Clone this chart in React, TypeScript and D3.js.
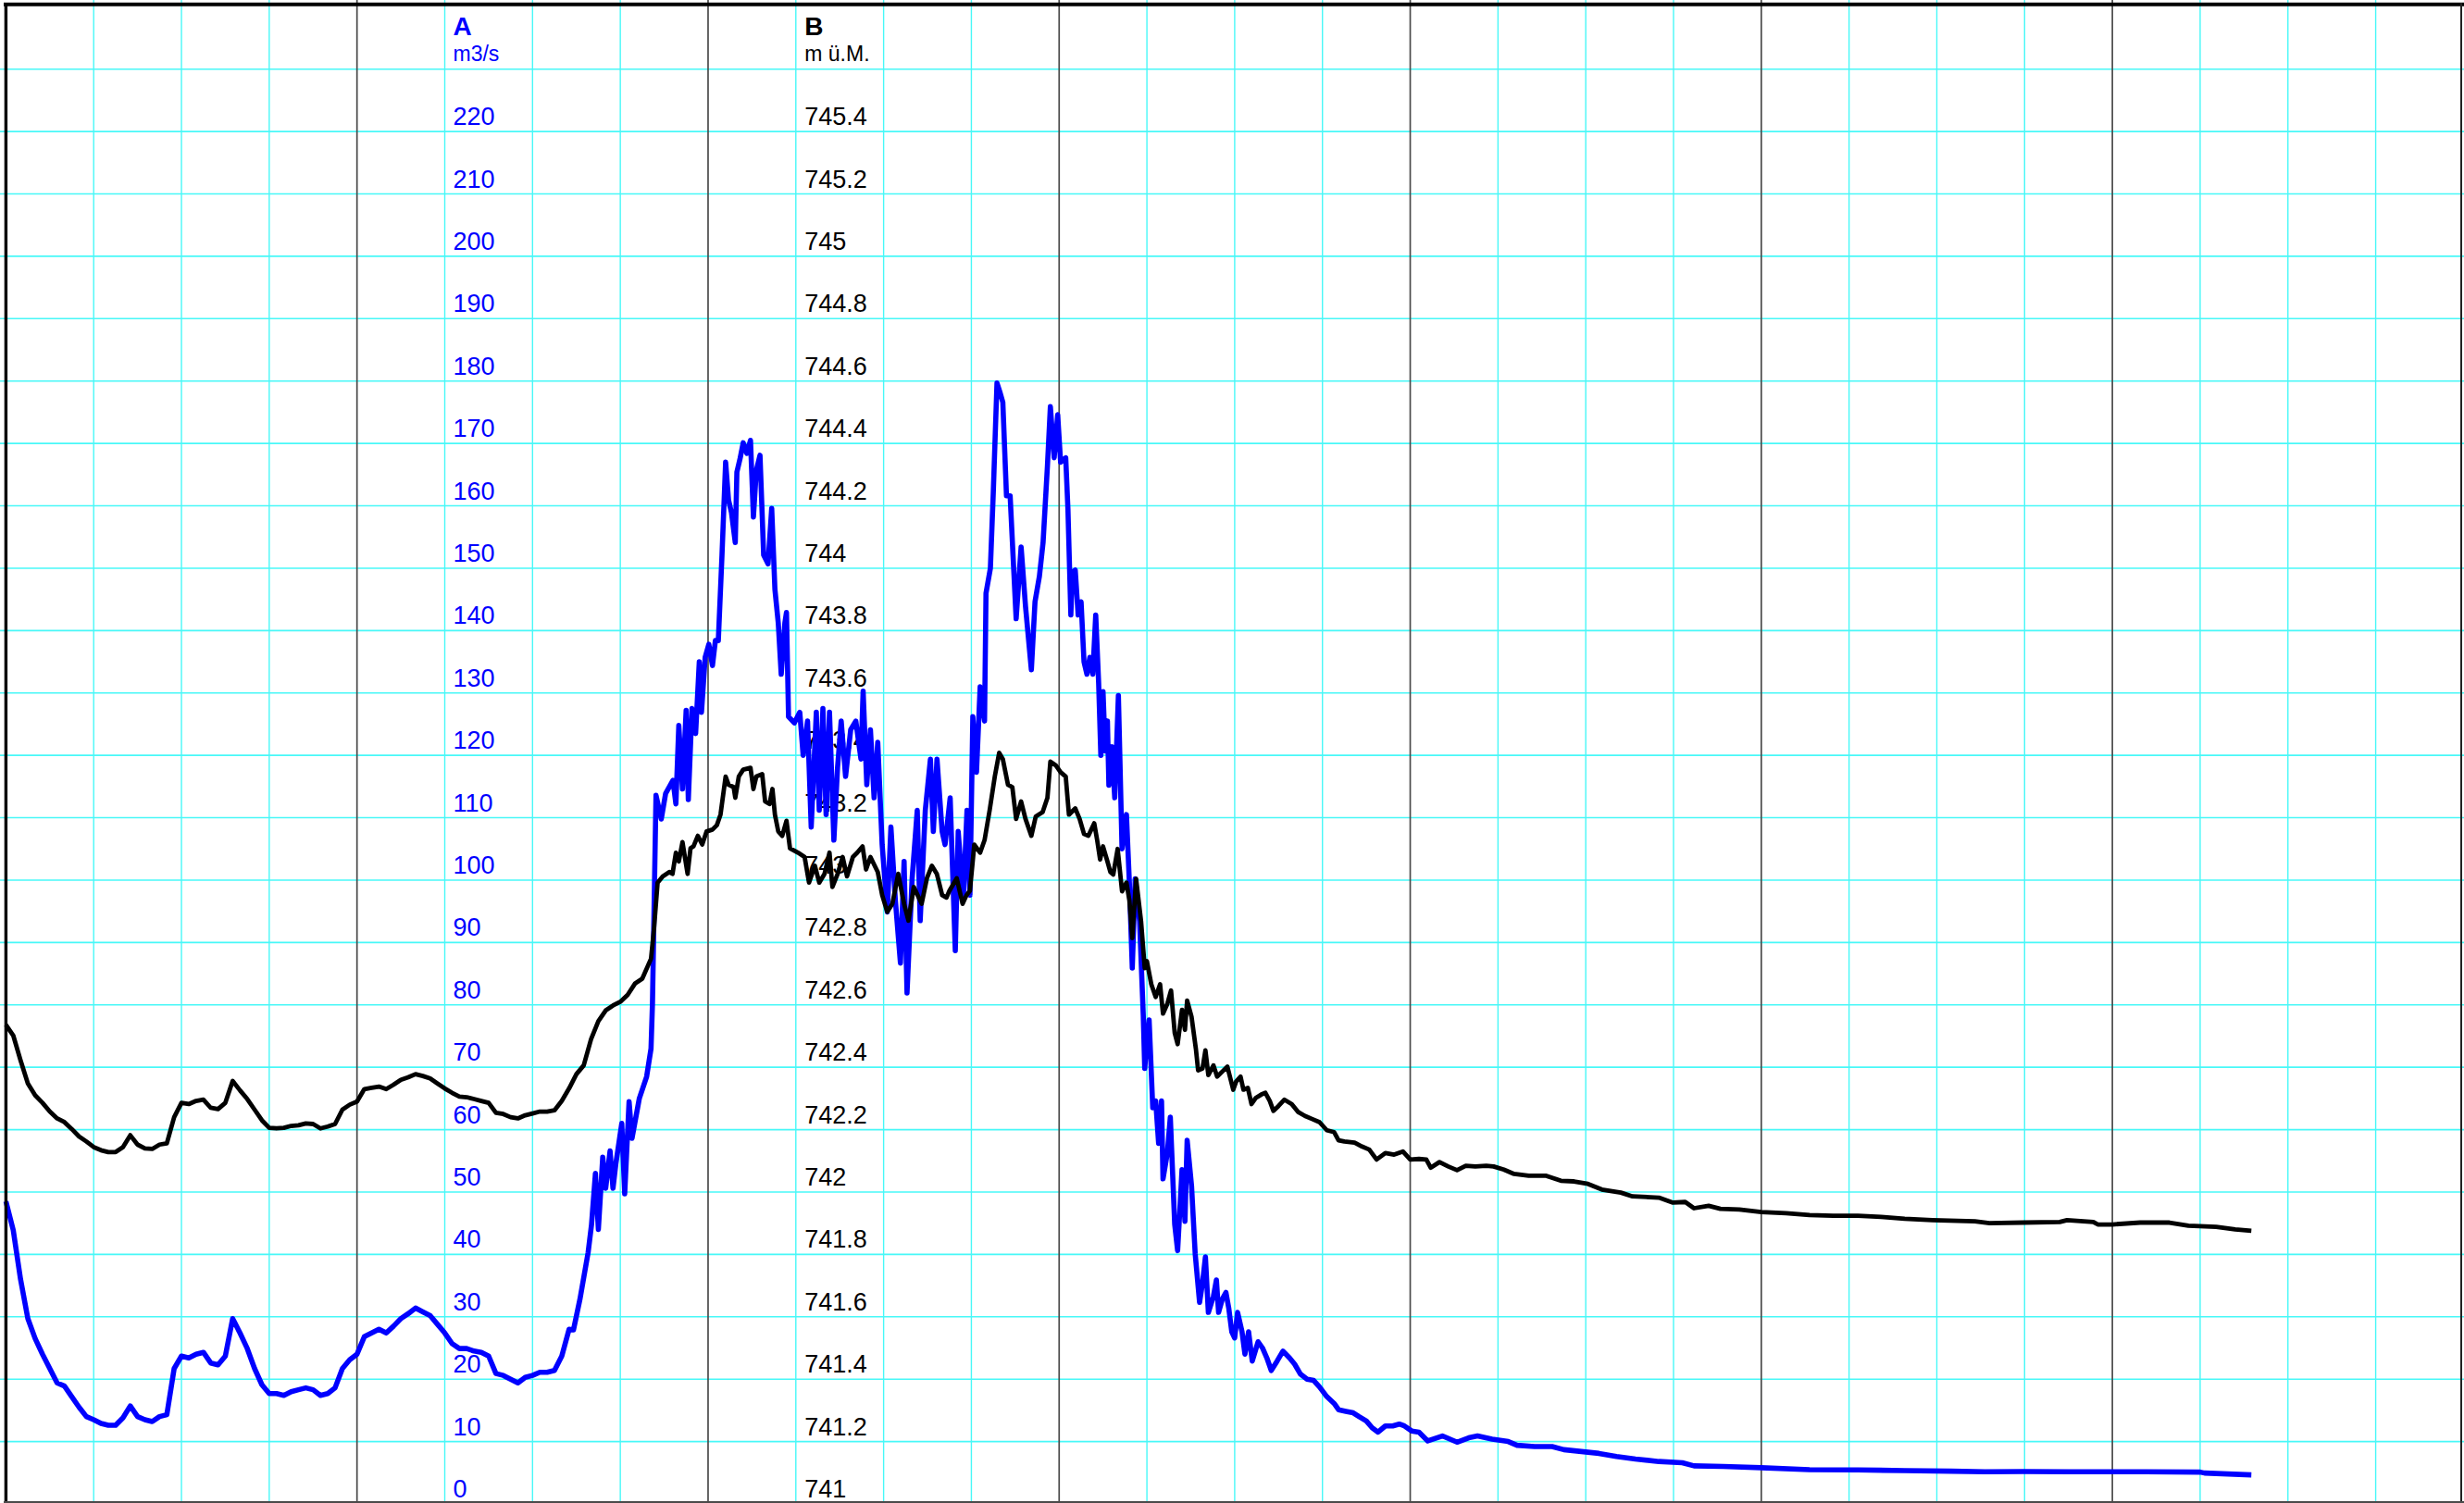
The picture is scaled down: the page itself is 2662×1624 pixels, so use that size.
import * as d3 from 'd3';

const WIDTH = 2662;
const HEIGHT = 1624;

// axis A: discharge (m3/s), axis B: water level (m ü.M.)
const flowLabels = [0, 10, 20, 30, 40, 50, 60, 70, 80, 90, 100, 110, 120, 130, 140, 150, 160, 170, 180, 190, 200, 210, 220];
const levelLabels = ['741', '741.2', '741.4', '741.6', '741.8', '742', '742.2', '742.4', '742.6', '742.8', '743', '743.2', '743.4', '743.6', '743.8', '744', '744.2', '744.4', '744.6', '744.8', '745', '745.2', '745.4'];
const flowGrid = [10, 20, 30, 40, 50, 60, 70, 80, 90, 100, 110, 120, 130, 140, 150, 160, 170, 180, 190, 200, 210, 220, 230];
// hours from the start of the record, one grid line each 6 h, dark one each day
const hourGrid = [6, 12, 18, 24, 30, 36, 42, 48, 54, 60, 66, 72, 78, 84, 90, 96, 102, 108, 114, 120, 126, 132, 138, 144, 150, 156, 162];

// [hour, m3/s]
const flowSeries: [number, number][] = [
  [0, 48.5], [0.5, 43.9], [1, 36], [1.5, 29.7], [2, 26.5], [2.5, 24], [3, 21.7], [3.5, 19.4], [4, 18.9], [4.5, 17.2],
  [5, 15.5], [5.5, 14], [6, 13.5], [6.5, 12.9], [7, 12.6], [7.5, 12.6], [8, 13.8], [8.5, 15.7], [9, 14], [9.5, 13.5],
  [10, 13.2], [10.5, 14], [11, 14.3], [11.5, 21.7], [12, 23.7], [12.5, 23.4], [13, 24], [13.5, 24.3], [14, 22.6], [14.5, 22.3],
  [15, 23.7], [15.5, 29.7], [16, 27.4], [16.5, 24.9], [17, 21.7], [17.5, 19.1], [18, 17.7], [18.5, 17.7], [19, 17.4], [19.5, 18],
  [20, 18.3], [20.5, 18.6], [21, 18.3], [21.5, 17.4], [22, 17.7], [22.5, 18.6], [23, 21.7], [23.5, 23.1], [24, 24], [24.5, 26.8],
  [25, 27.4], [25.5, 28], [26, 27.4], [26.5, 28.5], [27, 29.7], [27.5, 30.5], [28, 31.4], [28.5, 30.8], [29, 30.2], [29.5, 28.8],
  [30, 27.4], [30.5, 25.7], [31, 24.9], [31.5, 24.9], [32, 24.5], [32.5, 24.3], [33, 23.7], [33.5, 20.9], [34, 20.6], [34.5, 20],
  [35, 19.4], [35.5, 20.3], [36, 20.6], [36.5, 21.1], [37, 21.1], [37.5, 21.4], [38, 23.7], [38.5, 28], [38.8, 27.9], [39.24, 32.8],
  [39.8, 40.3], [40.03, 44.7], [40.3, 53], [40.5, 44], [40.8, 55.6], [41, 50.6], [41.3, 56.6], [41.5, 50.6], [41.7, 54.6], [42.1, 61],
  [42.3, 49.7], [42.6, 64.5], [42.8, 58.6], [43.3, 65], [43.8, 68.5], [44.1, 73], [44.2, 80.3], [44.44, 113.6], [44.8, 109.8], [45.1, 113.9],
  [45.6, 116], [45.8, 112.2], [46, 124.8], [46.25, 114.6], [46.5, 127.2], [46.65, 112.9], [46.9, 127.5], [47.15, 123.5], [47.4, 135], [47.55, 126.9],
  [47.8, 135.7], [48.05, 137.8], [48.3, 134.4], [48.5, 138.4], [48.7, 138.4], [48.95, 152], [49.2, 167], [49.4, 160.9], [49.6, 158.9], [49.86, 154.1],
  [49.97, 165.4], [50.2, 167.7], [50.4, 170.1], [50.65, 168.4], [50.9, 170.5], [51.1, 158.2], [51.3, 165.7], [51.55, 168.1], [51.8, 152.1], [52.1, 150.7],
  [52.35, 159.6], [52.57, 146.6], [52.8, 141.2], [53, 133], [53.25, 141.2], [53.36, 142.9], [53.5, 126.2], [53.9, 125.2], [54.27, 126.9], [54.5, 120],
  [54.8, 125.5], [55.05, 108.5], [55.4, 126.9], [55.6, 111.2], [55.85, 127.5], [56.07, 110.5], [56.3, 126.9], [56.6, 106.4], [56.85, 118], [57.1, 125.5],
  [57.4, 116.6], [57.75, 124.1], [58.1, 125.5], [58.45, 119.4], [58.6, 130.3], [58.85, 115.3], [59.1, 124.1], [59.35, 113.2], [59.6, 122.1], [59.9, 105.7],
  [60.25, 94.9], [60.5, 108.5], [60.8, 96.9], [61.15, 86.7], [61.4, 103], [61.6, 81.9], [61.95, 100.3], [62.3, 111.2], [62.5, 93.5], [62.85, 111.2],
  [63.2, 119.4], [63.4, 107.8], [63.65, 119.4], [64, 107.8], [64.2, 105.7], [64.55, 113.2], [64.9, 88.7], [65.1, 107.8], [65.45, 96.9], [65.7, 111.2],
  [65.9, 97.6], [66.1, 126.2], [66.35, 117.3], [66.6, 131], [66.9, 125.5], [67, 146], [67.3, 150], [67.5, 162.3], [67.75, 179.7], [67.98, 178],
  [68.15, 176.6], [68.4, 161.6], [68.65, 161.6], [69.06, 141.9], [69.4, 153.4], [69.7, 143.9], [70.1, 133.7], [70.35, 144.6], [70.65, 148.7], [70.9, 154.1],
  [71.2, 166.4], [71.4, 175.9], [71.66, 167.7], [71.9, 174.6], [72.1, 167], [72.45, 167.7], [72.6, 159.5], [72.8, 142.5], [72.9, 149.3], [73.1, 149.7],
  [73.3, 142.5], [73.5, 144.6], [73.7, 135], [73.9, 133], [74.1, 135.7], [74.3, 133], [74.5, 142.5], [74.7, 131.6], [74.85, 120], [75, 130.2],
  [75.15, 120.7], [75.3, 125.5], [75.4, 115.2], [75.6, 121.4], [75.8, 113.2], [76.05, 129.6], [76.3, 105], [76.6, 110.5], [76.8, 99.6], [77, 85.9],
  [77.2, 100.2], [77.5, 93.4], [77.75, 78.4], [77.85, 69.8], [78, 74.5], [78.15, 77.6], [78.4, 63.5], [78.6, 64.6], [78.8, 57.8], [79, 64.6],
  [79.1, 52.1], [79.4, 56.3], [79.6, 62], [79.9, 44.8], [80.1, 40.6], [80.4, 53.6], [80.6, 45.3], [80.75, 58.3], [81.05, 51], [81.3, 40.1],
  [81.6, 32.3], [81.8, 35.4], [82, 39.6], [82.2, 30.7], [82.55, 33.3], [82.75, 35.9], [82.9, 30.7], [83.15, 32.8], [83.4, 33.9], [83.6, 31.3],
  [83.8, 27.6], [84, 26.6], [84.2, 30.7], [84.5, 27.6], [84.7, 24], [84.95, 27.6], [85.2, 22.9], [85.6, 26], [85.9, 25], [86.2, 23.4],
  [86.5, 21.4], [86.9, 22.9], [87.3, 24.5], [87.75, 23.4], [88.1, 22.4], [88.5, 20.8], [88.95, 20], [89.4, 19.8], [89.8, 18.75], [90.3, 17.2],
  [90.8, 16.1], [91.1, 15.1], [91.6, 14.85], [92.1, 14.6], [92.5, 14], [93, 13.3], [93.4, 12.2], [93.8, 11.5], [94.3, 12.5], [94.8, 12.5],
  [95.25, 12.8], [95.6, 12.5], [96.1, 11.7], [96.6, 11.5], [97.2, 10.1], [98.2, 10.9], [99.2, 9.9], [100, 10.6], [100.6, 10.9], [101.6, 10.4],
  [102.7, 10], [103.3, 9.4], [104.5, 9.2], [105.7, 9.2], [106.5, 8.7], [107.7, 8.4], [108.9, 8.1], [110.1, 7.6], [111.4, 7.2], [113, 6.8],
  [114.6, 6.6], [115.4, 6.1], [117.4, 6], [120, 5.8], [123.3, 5.5], [126.6, 5.45], [129.8, 5.35], [133, 5.25], [135.3, 5.15], [137.9, 5.2],
  [141.1, 5.15], [144, 5.15], [146.3, 5.15], [150, 5.1], [150.3, 4.95], [153.5, 4.65],
];

// [hour, m ü.M.]
const levelSeries: [number, number][] = [
  [0, 742.536], [0.5, 742.502], [1, 742.422], [1.5, 742.348], [2, 742.31], [2.5, 742.286], [3, 742.258], [3.5, 742.236], [4, 742.224], [4.5, 742.202],
  [5, 742.178], [5.5, 742.162], [6, 742.144], [6.5, 742.134], [7, 742.128], [7.5, 742.128], [8, 742.144], [8.5, 742.182], [9, 742.152], [9.5, 742.14],
  [10, 742.138], [10.5, 742.152], [11, 742.156], [11.5, 742.24], [12, 742.286], [12.5, 742.282], [13, 742.292], [13.5, 742.296], [14, 742.27], [14.5, 742.266],
  [15, 742.286], [15.5, 742.356], [16, 742.326], [16.5, 742.298], [17, 742.264], [17.5, 742.23], [18, 742.206], [18.5, 742.204], [19, 742.206], [19.5, 742.212],
  [20, 742.214], [20.5, 742.22], [21, 742.218], [21.5, 742.204], [22, 742.21], [22.5, 742.218], [23, 742.264], [23.5, 742.28], [24, 742.29], [24.5, 742.33],
  [25, 742.334], [25.5, 742.338], [26, 742.33], [26.5, 742.344], [27, 742.36], [27.5, 742.368], [28, 742.378], [28.5, 742.372], [29, 742.364], [29.5, 742.348],
  [30, 742.332], [30.5, 742.318], [31, 742.306], [31.5, 742.304], [32, 742.298], [32.5, 742.292], [33, 742.286], [33.5, 742.254], [34, 742.25], [34.5, 742.24],
  [35, 742.236], [35.5, 742.246], [36, 742.252], [36.5, 742.258], [37, 742.258], [37.5, 742.262], [38, 742.292], [38.5, 742.332], [39, 742.378], [39.5, 742.406],
  [40, 742.49], [40.5, 742.548], [41, 742.582], [41.5, 742.598], [42, 742.61], [42.5, 742.632], [43, 742.668], [43.5, 742.684], [44.1, 742.748], [44.3, 742.842],
  [44.55, 742.992], [44.9, 743.012], [45.35, 743.026], [45.57, 743.02], [45.8, 743.088], [46, 743.06], [46.25, 743.122], [46.6, 743.02], [46.8, 743.102], [47, 743.108],
  [47.3, 743.142], [47.6, 743.114], [47.9, 743.156], [48.3, 743.162], [48.6, 743.176], [48.85, 743.21], [49.2, 743.332], [49.4, 743.306], [49.75, 743.298], [49.86, 743.264],
  [50.1, 743.332], [50.4, 743.354], [50.9, 743.36], [51.1, 743.292], [51.3, 743.332], [51.7, 743.34], [51.9, 743.252], [52.2, 743.244], [52.4, 743.292], [52.57, 743.21],
  [52.8, 743.156], [53.07, 743.142], [53.36, 743.19], [53.6, 743.102], [54.15, 743.088], [54.6, 743.074], [54.9, 742.992], [55.3, 743.046], [55.6, 742.992], [55.96, 743.02],
  [56.3, 743.088], [56.5, 742.978], [56.86, 743.02], [57.2, 743.074], [57.5, 743.012], [57.9, 743.074], [58.2, 743.088], [58.56, 743.108], [58.8, 743.034], [59.1, 743.074],
  [59.6, 743.026], [59.9, 742.952], [60.25, 742.898], [60.6, 742.924], [61, 743.02], [61.4, 742.924], [61.7, 742.87], [62.06, 742.978], [62.6, 742.924], [62.96, 743.006],
  [63.3, 743.046], [63.64, 743.02], [64, 742.952], [64.3, 742.944], [64.5, 742.966], [65, 743.006], [65.4, 742.924], [65.67, 742.952], [65.9, 742.966], [66.2, 743.114],
  [66.6, 743.088], [66.9, 743.128], [67.25, 743.224], [67.6, 743.332], [67.9, 743.408], [68.15, 743.388], [68.5, 743.306], [68.8, 743.298], [69.06, 743.196], [69.4, 743.252],
  [69.7, 743.196], [70.1, 743.142], [70.4, 743.204], [70.87, 743.218], [71.2, 743.264], [71.4, 743.38], [71.77, 743.368], [72.1, 743.346], [72.45, 743.332], [72.67, 743.21],
  [73.1, 743.23], [73.4, 743.196], [73.7, 743.148], [74, 743.142], [74.4, 743.182], [74.6, 743.128], [74.8, 743.066], [75, 743.108], [75.3, 743.06], [75.5, 743.026],
  [75.7, 743.018], [76, 743.1], [76.3, 742.964], [76.6, 742.992], [76.8, 742.936], [77, 742.814], [77.26, 743.004], [77.6, 742.868], [77.85, 742.718], [78, 742.74],
  [78.3, 742.666], [78.6, 742.625], [78.9, 742.666], [79.1, 742.572], [79.4, 742.604], [79.65, 742.646], [79.9, 742.51], [80.1, 742.474], [80.4, 742.584], [80.6, 742.52],
  [80.75, 742.614], [81.05, 742.562], [81.35, 742.458], [81.5, 742.39], [81.8, 742.396], [82, 742.454], [82.2, 742.375], [82.55, 742.406], [82.8, 742.37], [83.15, 742.386],
  [83.5, 742.402], [83.9, 742.328], [84.1, 742.354], [84.4, 742.37], [84.6, 742.328], [84.9, 742.334], [85.15, 742.282], [85.45, 742.302], [85.8, 742.312], [86.1, 742.318],
  [86.4, 742.292], [86.65, 742.26], [87, 742.276], [87.4, 742.296], [87.9, 742.282], [88.35, 742.256], [88.8, 742.244], [89.3, 742.234], [89.8, 742.224], [90.3, 742.198],
  [90.8, 742.192], [91.1, 742.166], [91.5, 742.162], [92.2, 742.158], [92.7, 742.146], [93.2, 742.136], [93.7, 742.104], [94.3, 742.125], [94.9, 742.12], [95.5, 742.13],
  [96, 742.104], [96.6, 742.106], [97.1, 742.104], [97.4, 742.078], [98, 742.096], [98.6, 742.082], [99.2, 742.07], [99.8, 742.084], [100.45, 742.082], [101.2, 742.084],
  [101.7, 742.082], [102.4, 742.072], [103.1, 742.058], [104.1, 742.052], [105.3, 742.052], [106.3, 742.036], [107.2, 742.034], [108.15, 742.026], [109.1, 742.008], [110.4, 741.998],
  [111.2, 741.986], [113, 741.982], [113.96, 741.966], [114.8, 741.968], [115.4, 741.948], [116.4, 741.956], [117.2, 741.946], [118.5, 741.944], [120, 741.936], [121.7, 741.932],
  [123.3, 741.926], [124.9, 741.924], [126.6, 741.924], [128.2, 741.92], [129.8, 741.914], [131.7, 741.91], [134.6, 741.906], [135.6, 741.9], [137.9, 741.902], [140.4, 741.904],
  [140.9, 741.91], [142.7, 741.904], [143, 741.896], [144, 741.896], [145.9, 741.902], [147.9, 741.902], [149.2, 741.892], [151.1, 741.888], [152.4, 741.88], [153.5, 741.876],
];

const x = d3.scaleLinear().domain([0, 168]).range([6.4, 2661.4]);
const yA = d3.scaleLinear().domain([0, 240]).range([1625, 7.3]);
const yB = d3.scaleLinear().domain([741, 745.8]).range([1625, 7.3]);

const lineA = d3.line<[number, number]>().x(d => x(d[0])).y(d => yA(d[1]));
const lineB = d3.line<[number, number]>().x(d => x(d[0])).y(d => yB(d[1]));

const CYAN = '#48f8f8';
const DARK = '#4a4a4a';
const BLUE = '#0000ff';
const FONT = '"Liberation Sans", Arial, sans-serif';

export default function App() {
  const labelA = x(30) + 9;
  const labelB = x(54) + 9.5;
  return (
    <svg width={WIDTH} height={HEIGHT} style={{ position: 'absolute', left: 0, top: 0, background: '#fff' }}
      fontFamily={FONT}>
      <rect x={0} y={0} width={WIDTH} height={HEIGHT} fill="#fff" />
      {flowGrid.map(v => (
        <line key={'h' + v} x1={0} x2={WIDTH} y1={yA(v)} y2={yA(v)} stroke={CYAN} strokeWidth={1.6} />
      ))}
      {hourGrid.map(h => (
        <line key={'v' + h} x1={x(h)} x2={x(h)} y1={0} y2={HEIGHT}
          stroke={h % 24 === 0 ? DARK : CYAN} strokeWidth={h % 24 === 0 ? 1.7 : 1.4} />
      ))}

      {flowLabels.map(v => (
        <text key={'a' + v} x={labelA} y={yA(v) - 7} fontSize={27} fill={BLUE}>{v}</text>
      ))}
      {levelLabels.map(v => (
        <text key={'b' + v} x={labelB} y={yB(+v) - 7} fontSize={27} fill="#000">{v}</text>
      ))}
      <text x={labelA} y={38} fontSize={28} fontWeight="bold" fill={BLUE}>A</text>
      <text x={labelA} y={66} fontSize={23} fill={BLUE}>m3/s</text>
      <text x={labelB} y={38} fontSize={28} fontWeight="bold" fill="#000">B</text>
      <text x={labelB} y={66} fontSize={23} fill="#000">m ü.M.</text>

      <path d={lineA(flowSeries) ?? ''} fill="none" stroke={BLUE} strokeWidth={5.6} strokeLinejoin="round" />
      <path d={lineB(levelSeries) ?? ''} fill="none" stroke="#000" strokeWidth={4.8} strokeLinejoin="round" />

      {/* frame */}
      <line x1={x(0)} x2={x(0)} y1={3} y2={HEIGHT} stroke="#000" strokeWidth={3.4} />
      <line x1={4} x2={WIDTH} y1={4.7} y2={4.7} stroke="#000" strokeWidth={4} />
      <line x1={2659} x2={2659} y1={3} y2={HEIGHT} stroke="#222" strokeWidth={2} />
      <line x1={4} x2={WIDTH} y1={1623} y2={1623} stroke={DARK} strokeWidth={2} />
    </svg>
  );
}
